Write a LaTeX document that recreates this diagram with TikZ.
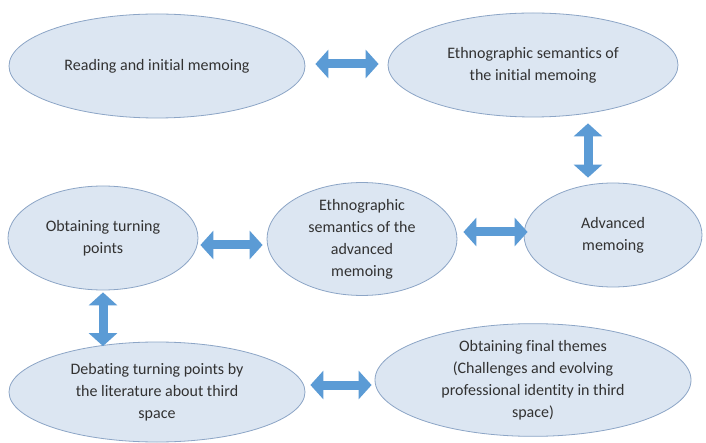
\documentclass[tikz,border=0pt]{standalone}
\usepackage{fontspec}
\setmainfont[Ligatures=NoCommon]{Carlito}
\usetikzlibrary{shapes.geometric,arrows.meta,calc}
\definecolor{efill}{RGB}{220,230,242}
\definecolor{edraw}{RGB}{140,165,198}
\definecolor{arrblue}{RGB}{91,155,213}
\definecolor{txt}{RGB}{50,50,50}
\begin{document}
\begin{tikzpicture}[x=1pt,y=-1pt,
  ell/.style={ellipse, draw=edraw, line width=0.8pt, fill=efill, inner sep=0pt,
    align=center, text=txt, font=\fontsize{16}{22}\selectfont},
  blockarrow/.style={draw=arrblue, line width=9pt,
    {Triangle[length=13pt,width=28pt]}-{Triangle[length=13pt,width=28pt]}}]
\useasboundingbox[fill=white] (0,0) rectangle (706,443);
\node[ell, minimum width=296pt, minimum height=104pt] (e1) at (157,66) {Reading and initial memoing};
\node[ell, minimum width=290pt, minimum height=104pt] (e2) at (533,65) {Ethnographic semantics of\\the initial memoing};
\node[ell, minimum width=178pt, minimum height=104pt] (adv) at (613,235) {Advanced\\memoing};
\node[ell, minimum width=190pt, minimum height=103pt] (ea) at (362,239) {Ethnographic\\semantics of the\\advanced\\memoing};
\node[ell, minimum width=190pt, minimum height=104pt] (otp) at (103,238) {Obtaining turning\\points};
\node[ell, minimum width=296pt, minimum height=100pt] (deb) at (157,392) {Debating turning points by\\the literature about third\\space};
\node[ell, minimum width=316pt, minimum height=104pt] (fin) at (533,380) {Obtaining final themes\\(Challenges and evolving\\professional identity in third\\space)};
\draw[blockarrow] ($(e1.east)+(10,-2)$) -- ($(e2.west)+(-9,-1)$);
\draw[blockarrow] ($(e2.south)+(55,6)$) -- ($(adv.north)+(-25,-5)$);
\draw[blockarrow] ($(ea.east)+(6,-7)$) -- ($(adv.west)+(4,-3)$);
\draw[blockarrow] ($(otp.east)+(2,7)$) -- ($(ea.west)+(-4,6)$);
\draw[blockarrow] ($(otp.south)+(0,2)$) -- ($(deb.north)+(-54,4.5)$);
\draw[blockarrow] ($(deb.east)+(5,-7)$) -- ($(fin.west)+(-3,5)$);
\end{tikzpicture}
\end{document}
